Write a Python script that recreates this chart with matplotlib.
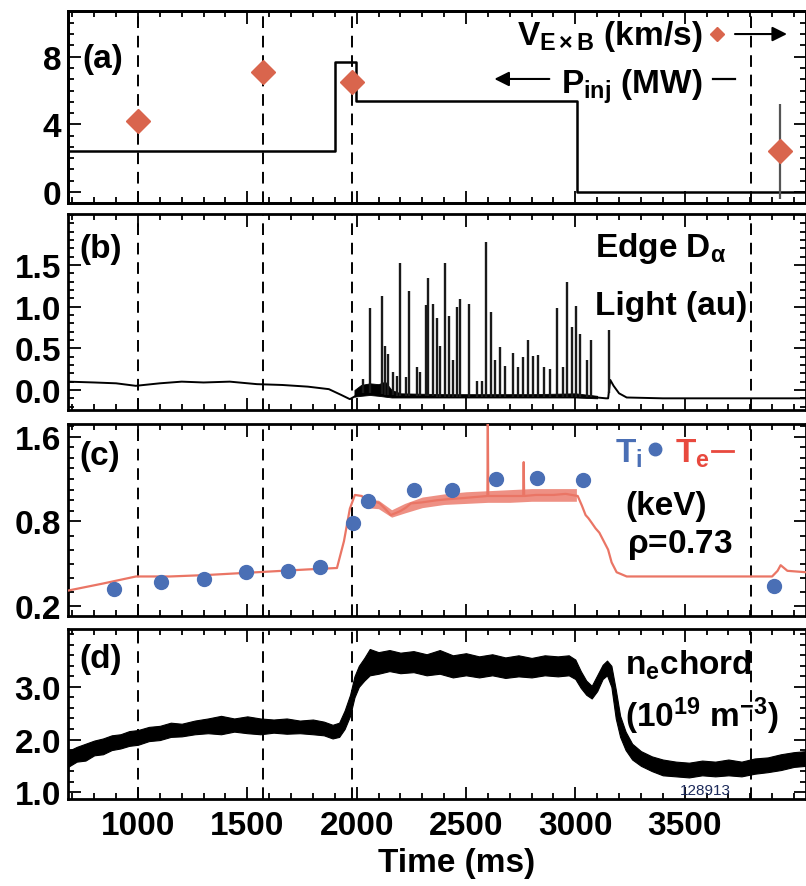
import numpy as np
import matplotlib
matplotlib.use('Agg')
import matplotlib.pyplot as plt
from matplotlib.ticker import MultipleLocator, AutoMinorLocator, FormatStrFormatter

plt.rcParams['font.family'] = ['Liberation Sans', 'DejaVu Sans']
plt.rcParams['font.weight'] = 'bold'
plt.rcParams['mathtext.fontset'] = 'custom'
plt.rcParams['mathtext.rm'] = 'Liberation Sans:bold'
plt.rcParams['mathtext.it'] = 'Liberation Sans:bold'
plt.rcParams['mathtext.bf'] = 'Liberation Sans:bold'

# ---- shot data (time in ms) ----
mark_t = [1000, 1570, 1980, 3805]

# (a) injected power and ExB velocity
pinj_t = [680, 1900, 1995, 3010, 4055]
pinj_v = [2.4, 7.7, 5.4, 0.0, 0.0]
vexb_t = [1000, 1570, 1980, 3934]
vexb_v = [4.2, 7.1, 6.5, 2.4]
vexb_err = [0, 0, 0, 2.8]

# (b) edge D-alpha
da_t = [680, 800, 900, 990, 1100, 1200, 1300, 1420, 1544, 1660, 1777, 1873, 1930, 1969,
        2010, 2040, 2100, 2200, 2400, 2600, 2800, 3000, 3100, 3140, 3150, 3160, 3175,
        3200, 3235, 3400, 3600, 3800, 4055]
da_v = [0.10, 0.09, 0.08, 0.05, 0.08, 0.10, 0.09, 0.10, 0.07, 0.06, 0.04, 0.01, -0.06, -0.11,
        -0.05, -0.03, -0.05, -0.07, -0.08, -0.08, -0.08, -0.08, -0.09, -0.10, -0.10, 0.12, 0.05,
        -0.04, -0.09, -0.10, -0.10, -0.10, -0.10]
da_band_t = [1990, 2020, 2060, 2100, 2130, 2160, 2200, 2400, 2600, 2800, 3000, 3100]
da_band_lo = [-0.08, -0.07, -0.06, -0.07, -0.08, -0.09, -0.09, -0.09, -0.09, -0.09, -0.09, -0.10]
da_band_hi = [0.00, 0.06, 0.08, 0.07, 0.10, 0.00, -0.04, -0.05, -0.05, -0.05, -0.04, -0.07]
elm_t = [2028, 2060, 2115, 2129, 2143, 2166, 2184, 2198, 2225, 2239,
         2275, 2289, 2316, 2325, 2348, 2367, 2380, 2403, 2421, 2440,
         2458, 2472, 2513, 2549, 2572, 2591, 2613, 2632, 2655, 2678,
         2714, 2737, 2760, 2783, 2805, 2828, 2856, 2883, 2915, 2942,
         2961, 2984, 3002, 3020, 3052, 3071, 3153]
elm_peak = [0.13, 0.98, 1.13, 0.53, 0.43, 0.21, 0.17, 1.52, 0.15, 1.19,
            0.27, 0.22, 1.02, 1.34, 1.03, 0.86, 0.53, 1.52, 0.89, 0.36,
            0.99, 1.09, 1.03, 0.11, 0.11, 1.78, 0.93, 0.36, 0.51, 0.29,
            0.44, 0.28, 0.39, 0.60, 0.41, 0.42, 0.28, 0.25, 0.98, 0.28,
            1.30, 0.75, 1.01, 0.67, 0.36, 0.60, 0.72]

# (c) temperatures at rho = 0.73 (keV)
te_t = [680, 840, 991, 1146, 1311, 1544, 1777, 1910, 1942, 1969, 1992, 2024, 2045, 2060,
        2080, 2106, 2130, 2156, 2180, 2202, 2225, 2248, 2300, 2367, 2420, 2485, 2540, 2598,
        2600, 2602, 2660, 2718, 2762, 2764, 2766, 2820, 2900, 2956, 3011, 3030, 3047, 3060,
        3075, 3093, 3110, 3130, 3150, 3166, 3189, 3235, 3300, 3422, 3600, 3779, 3900, 3925,
        3939, 3970, 4055]
te_v = [0.31, 0.36, 0.41, 0.41, 0.42, 0.44, 0.46, 0.47, 0.66, 0.92, 1.05, 1.04, 0.98, 0.97,
        0.99, 0.97, 0.92, 0.86, 0.88, 0.90, 0.93, 0.97, 0.98, 1.00, 1.01, 1.02, 1.03, 1.04,
        1.75, 1.04, 1.04, 1.04, 1.04, 1.36, 1.04, 1.05, 1.05, 1.06, 1.04, 0.95, 0.86, 0.83,
        0.79, 0.75, 0.72, 0.66, 0.60, 0.51, 0.44, 0.41, 0.41, 0.41, 0.41, 0.41, 0.41, 0.45,
        0.49, 0.45, 0.44]
te_rip_t = [2040, 2100, 2160, 2220, 2300, 2400, 2500, 2600, 2700, 2800, 2900, 3005]
te_rip_lo = [0.93, 0.92, 0.84, 0.88, 0.93, 0.96, 0.97, 0.98, 0.98, 0.99, 0.99, 0.99]
te_rip_hi = [1.01, 1.00, 0.91, 0.97, 1.03, 1.06, 1.08, 1.09, 1.10, 1.11, 1.11, 1.11]
ti_t = [890, 1105, 1302, 1494, 1686, 1832, 1983, 2051, 2262, 2435, 2636, 2824, 3034, 3907]
ti_v = [0.32, 0.37, 0.39, 0.44, 0.45, 0.48, 0.79, 0.99, 1.10, 1.10, 1.20, 1.21, 1.19, 0.34]

# (d) line-integrated density, min/max envelope of the raw trace
ne_t = [680, 720, 760, 800, 840, 880, 920, 960, 1000, 1050,
        1100, 1150, 1200, 1260, 1320, 1380, 1440, 1500, 1560, 1620,
        1680, 1740, 1800, 1850, 1890, 1920, 1945, 1970, 1990, 2010,
        2035, 2060, 2100, 2150, 2200, 2260, 2320, 2380, 2440, 2500,
        2560, 2620, 2680, 2740, 2800, 2860, 2920, 2970, 3000, 3025,
        3050, 3075, 3100, 3125, 3145, 3165, 3185, 3205, 3230, 3260,
        3300, 3350, 3400, 3460, 3520, 3580, 3640, 3700, 3760, 3820,
        3880, 3940, 4000, 4055]
ne_lo = [1.48, 1.58, 1.60, 1.70, 1.72, 1.80, 1.83, 1.88, 1.90, 1.97,
         1.99, 2.05, 2.06, 2.10, 2.12, 2.10, 2.15, 2.12, 2.10, 2.13,
         2.11, 2.12, 2.10, 2.08, 2.02, 2.05, 2.20, 2.45, 2.80, 3.00,
         3.12, 3.22, 3.25, 3.30, 3.26, 3.28, 3.22, 3.25, 3.18, 3.22,
         3.18, 3.22, 3.17, 3.20, 3.18, 3.22, 3.20, 3.22, 3.15, 2.98,
         2.85, 2.78, 2.92, 3.15, 3.22, 3.00, 2.40, 2.05, 1.80, 1.62,
         1.50, 1.40, 1.32, 1.30, 1.28, 1.32, 1.30, 1.32, 1.30, 1.35,
         1.38, 1.42, 1.48, 1.50]
ne_hi = [1.78, 1.86, 1.92, 1.98, 2.02, 2.08, 2.10, 2.16, 2.18, 2.24,
         2.26, 2.32, 2.30, 2.36, 2.40, 2.45, 2.40, 2.44, 2.40, 2.38,
         2.40, 2.36, 2.38, 2.34, 2.28, 2.32, 2.55, 2.85, 3.20, 3.40,
         3.55, 3.72, 3.66, 3.70, 3.65, 3.68, 3.62, 3.70, 3.60, 3.64,
         3.58, 3.62, 3.56, 3.60, 3.55, 3.60, 3.58, 3.60, 3.52, 3.30,
         3.12, 3.02, 3.22, 3.42, 3.50, 3.40, 2.95, 2.45, 2.15, 1.92,
         1.78, 1.68, 1.62, 1.58, 1.56, 1.60, 1.58, 1.62, 1.58, 1.64,
         1.66, 1.72, 1.76, 1.78]

xticks = [1000, 1500, 2000, 2500, 3000, 3500]

orange = '#d9654d'
salmon = '#ea7565'
blue = '#4a6fb5'
FS = 24

W, H = 806, 887
fig = plt.figure(figsize=(W / 100, H / 100), dpi=100)


def panel(top, bottom):
    return fig.add_axes([68 / W, 1 - bottom / H, 738 / W, (bottom - top) / H])


ax1 = panel(12, 204)
ax2 = panel(215, 411)
ax3 = panel(425, 617)
ax4 = panel(630, 800)
axes = [ax1, ax2, ax3, ax4]

# piecewise axis for the temperature panel
def te_fwd(v):
    v = np.asarray(v, float)
    return np.where(v <= 0.8, (v - 0.2) / 0.6, 1 + (v - 0.8) / 0.8)


def te_inv(u):
    u = np.asarray(u, float)
    return np.where(u <= 1, 0.2 + 0.6 * u, 0.8 + 0.8 * (u - 1))


ax3.set_yscale('function', functions=(te_fwd, te_inv))

for ax in axes:
    ax.set_xlim(680, 4055)
    ax.set_xticks(xticks)
    ax.xaxis.set_minor_locator(MultipleLocator(100))
    ax.tick_params(which='both', direction='in', top=True, right=True, width=1.3,
                   labelsize=FS, pad=5)
    ax.tick_params(which='major', length=9)
    ax.tick_params(which='minor', length=4.5)
    ax.tick_params(axis='x', labelbottom=False)
    for s in ax.spines.values():
        s.set_linewidth(2)
    for t in mark_t:
        ax.axvline(t, color='k', lw=1.4, ls=(0, (6, 4)), zorder=1)

# (a)
ax1.plot(pinj_t, pinj_v, color='k', lw=1.8, drawstyle='steps-post', zorder=3)
ax1.set_ylim(-0.65, 10.7)
ax1.set_yticks([0, 4, 8])
ax1.yaxis.set_minor_locator(AutoMinorLocator(6))
ax1.tick_params(right=False)
ax1r = ax1.twinx()
ax1r.set_ylim(-0.65, 10.7)
ax1r.set_yticks([0, 4, 8])
ax1r.yaxis.set_minor_locator(AutoMinorLocator(6))
ax1r.tick_params(which='both', direction='in', labelright=False, width=1.3)
ax1r.tick_params(which='major', length=9)
ax1r.tick_params(which='minor', length=4.5)
ax1r.errorbar(vexb_t, vexb_v, yerr=vexb_err, fmt='D', color=orange, ms=12,
              ecolor='#555555', elinewidth=1.6, capsize=0, zorder=4)
for s in ax1r.spines.values():
    s.set_linewidth(2)

ax1.text(0.019, 0.708, '(a)', transform=ax1.transAxes, fontsize=FS)
ax1.text(0.860, 0.83, r'$V_{E\times B}$ (km/s)', transform=ax1.transAxes,
         fontsize=FS, ha='right', va='baseline')
ax1.plot([0.879], [0.88], 'D', color=orange, ms=7, transform=ax1.transAxes, clip_on=False)
ax1.annotate('', xy=(0.978, 0.88), xytext=(0.900, 0.88), xycoords='axes fraction',
             arrowprops=dict(arrowstyle='-|>', color='k', lw=1.5, mutation_scale=22))
ax1.text(0.860, 0.575, r'$P_{inj}$ (MW)', transform=ax1.transAxes,
         fontsize=FS, ha='right', va='baseline')
ax1.plot([0.874, 0.904], [0.646, 0.646], color='k', lw=1.6, transform=ax1.transAxes)
ax1.annotate('', xy=(0.574, 0.646), xytext=(0.656, 0.646), xycoords='axes fraction',
             arrowprops=dict(arrowstyle='-|>', color='k', lw=1.5, mutation_scale=22))

# (b)
ax2.fill_between(da_band_t, da_band_lo, da_band_hi, color='k', lw=0.6, zorder=2)
ax2.plot(da_t, da_v, color='k', lw=1.4, zorder=3)
elm_base = np.interp(elm_t, da_t, da_v)
ax2.vlines(elm_t, elm_base, elm_peak, color='#1a1a1a', lw=1.7, zorder=3)
ax2.set_ylim(-0.24, 2.11)
ax2.set_yticks([0, 0.5, 1.0, 1.5])
ax2.yaxis.set_major_formatter(FormatStrFormatter('%.1f'))
ax2.yaxis.set_minor_locator(MultipleLocator(0.1))
ax2.text(0.016, 0.78, '(b)', transform=ax2.transAxes, fontsize=FS)
ax2.text(0.714, 0.786, r'Edge D$_\alpha$', transform=ax2.transAxes, fontsize=FS)
ax2.text(0.714, 0.49, 'Light (au)', transform=ax2.transAxes, fontsize=FS)

# (c)
ax3.fill_between(te_rip_t, te_rip_lo, te_rip_hi, color=salmon, alpha=0.8, lw=0, zorder=2)
ax3.plot(te_t, te_v, color=salmon, lw=1.6, zorder=3)
ax3.plot(ti_t, ti_v, 'o', color=blue, ms=10, zorder=4)
ax3.set_ylim(0.13, 1.72)
ax3.set_yticks([0.2, 0.8, 1.6])
ax3.yaxis.set_major_formatter(FormatStrFormatter('%.1f'))
ax3.yaxis.set_minor_locator(MultipleLocator(0.1))
ax3.text(0.016, 0.79, '(c)', transform=ax3.transAxes, fontsize=FS)
ax3.text(0.741, 0.802, r'$T_i$', transform=ax3.transAxes, fontsize=FS, color=blue)
ax3.plot([0.795], [0.87], 'o', color=blue, ms=9, transform=ax3.transAxes)
ax3.text(0.822, 0.802, r'$T_e$', transform=ax3.transAxes, fontsize=FS, color='#e8493e')
ax3.plot([0.873, 0.901], [0.859, 0.859], color='#e8493e', lw=2, transform=ax3.transAxes)
ax3.text(0.755, 0.531, '(keV)', transform=ax3.transAxes, fontsize=FS)
ax3.text(0.757, 0.333, r'$\rho$=0.73', transform=ax3.transAxes, fontsize=FS)

# (d)
ax4.fill_between(ne_t, ne_lo, ne_hi, color='k', lw=0.8, zorder=3)
ax4.set_ylim(0.87, 4.1)
ax4.set_yticks([1, 2, 3])
ax4.yaxis.set_major_formatter(FormatStrFormatter('%.1f'))
ax4.yaxis.set_minor_locator(MultipleLocator(0.2))
ax4.tick_params(axis='x', labelbottom=True, pad=8)
ax4.text(0.016, 0.776, '(d)', transform=ax4.transAxes, fontsize=FS)
ax4.text(0.755, 0.735, r'n$_e$chord', transform=ax4.transAxes, fontsize=FS)
ax4.text(0.755, 0.43, r'(10$^{19}$ m$^{-3}$)', transform=ax4.transAxes, fontsize=FS)
ax4.text(0.829, 0.03, '128913', transform=ax4.transAxes, fontsize=11,
         fontweight='normal', color='#1c2a5a')

fig.text(457 / W, 1 - 872 / H, 'Time (ms)', ha='center', va='baseline', fontsize=FS)

fig.savefig('out.png', dpi=100)
